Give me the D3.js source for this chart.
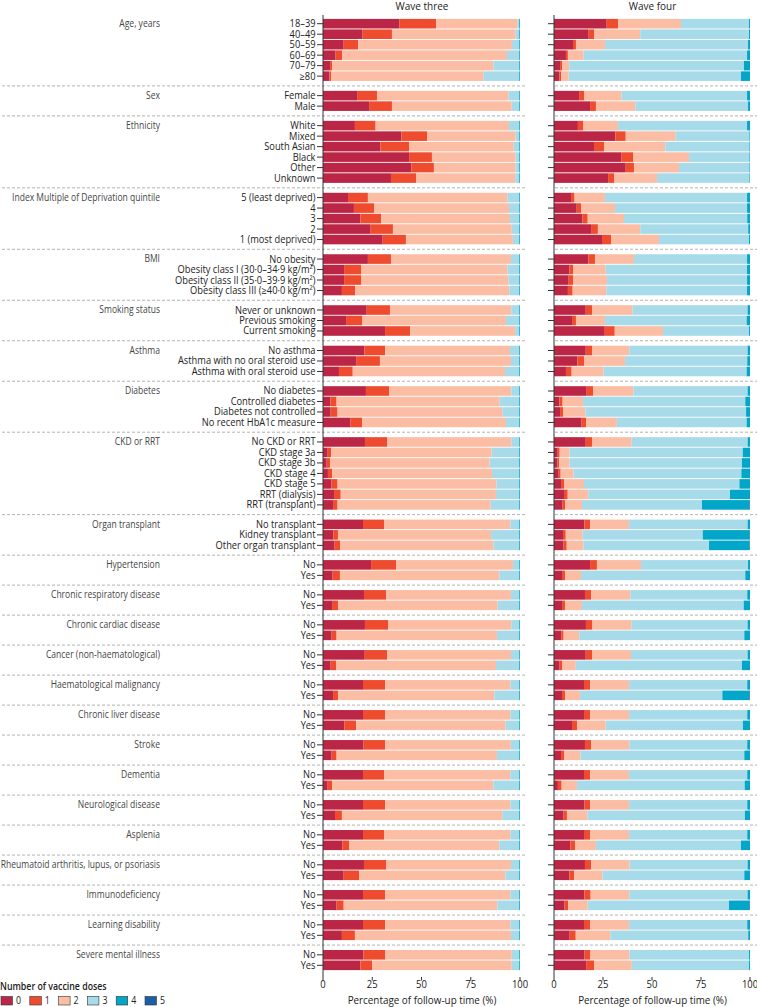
<!DOCTYPE html>
<html><head><meta charset="utf-8">
<script src="https://cdn.jsdelivr.net/npm/d3@7"></script>
<style>body{margin:0;background:#fff} svg{display:block} text{font-family:"Open Sans","Noto Sans",sans-serif}</style>
</head><body><svg id="c" width="757" height="1007"></svg>
<script>
// ---------------- DATA ----------------
const groupLabels = ["Age, years","Sex","Ethnicity","Index Multiple of Deprivation quintile","BMI","Smoking status","Asthma","Diabetes","CKD or RRT","Organ transplant","Hypertension","Chronic respiratory disease","Chronic cardiac disease","Cancer (non-haematological)","Haematological malignancy","Chronic liver disease","Stroke","Dementia","Neurological disease","Asplenia","Rheumatoid arthritis, lupus, or psoriasis","Immunodeficiency","Learning disability","Severe mental illness"];
const rowLabels = [
 ["18–39","40–49","50–59","60–69","70–79","≥80"],
 ["Female","Male"],
 ["White","Mixed","South Asian","Black","Other","Unknown"],
 ["5 (least deprived)","4","3","2","1 (most deprived)"],
 ["No obesity","Obesity class I (30·0–34·9 kg/m²)","Obesity class II (35·0–39·9 kg/m²)","Obesity class III (≥40·0 kg/m²)"],
 ["Never or unknown","Previous smoking","Current smoking"],
 ["No asthma","Asthma with no oral steroid use","Asthma with oral steroid use"],
 ["No diabetes","Controlled diabetes","Diabetes not controlled","No recent HbA1c measure"],
 ["No CKD or RRT","CKD stage 3a","CKD stage 3b","CKD stage 4","CKD stage 5","RRT (dialysis)","RRT (transplant)"],
 ["No transplant","Kidney transplant","Other organ transplant"],
 ["No","Yes"],["No","Yes"],["No","Yes"],["No","Yes"],["No","Yes"],["No","Yes"],["No","Yes"],
 ["No","Yes"],["No","Yes"],["No","Yes"],["No","Yes"],["No","Yes"],["No","Yes"],["No","Yes"]
];
// cumulative % of follow-up time reached by 0,1,2,3,4 doses (rest = 5 doses)
const wave3Cumulative = [
 [38.7,57.4,98.8,99.6,100],[20.1,35.0,97.8,99.6,100],[10.5,17.9,95.9,99.6,100],[6.4,9.8,93.4,99.6,100],[3.6,4.6,86.5,99.6,100],[3.2,4.1,81.6,99.6,100],
 [17.3,27.4,94.2,99.6,100],[23.4,35.0,95.8,99.6,100],
 [16.2,26.7,94.4,99.6,100],[39.8,52.8,97.8,99.6,100],[29.1,43.7,96.8,99.6,100],[43.7,55.3,97.8,99.6,100],[44.8,56.3,97.8,99.6,100],[34.5,47.4,97.6,99.6,100],
 [12.7,22.8,93.7,99.6,100],[15.7,25.9,94.4,99.6,100],[19.0,29.6,94.9,99.6,100],[24.2,35.5,95.8,99.6,100],[30.3,42.1,96.4,99.6,100],
 [22.8,34.5,95.4,99.6,100],[10.7,19.5,93.6,99.6,100],[10.7,19.5,94.1,99.6,100],[9.6,16.4,94.6,99.6,100],
 [22.2,34.0,95.6,99.6,100],[11.7,19.8,92.9,99.6,100],[31.5,44.3,97.5,99.6,100],
 [21.0,31.6,94.9,99.6,100],[17.1,28.9,95.4,99.6,100],[8.1,15.1,92.4,99.6,100],
 [21.8,33.5,95.6,99.6,100],[3.7,6.9,89.7,99.6,100],[3.9,7.4,91.0,99.6,100],[14.0,19.8,92.9,99.6,100],
 [21.3,32.7,95.6,99.6,100],[2.4,4.1,85.6,99.6,100],[1.9,3.6,84.6,99.6,100],[2.5,4.6,85.8,99.6,100],[4.2,7.4,88.0,99.6,100],[5.6,9.0,87.8,99.6,100],[5.1,7.4,85.1,99.6,100],
 [20.3,31.1,95.1,99.6,100],[5.2,7.6,85.3,99.6,100],[5.9,8.8,86.6,99.6,100],
 [24.4,37.2,96.4,99.6,100],[4.9,8.6,89.5,99.6,100],
 [20.8,32.1,95.4,99.6,100],[4.6,7.6,88.7,99.6,100],
 [21.3,33.0,95.6,99.6,100],[4.4,6.9,88.3,99.6,100],
 [21.2,32.5,95.4,99.6,100],[3.9,6.6,87.8,99.6,100],
 [20.3,31.5,95.1,99.6,100],[5.1,7.6,87.0,99.6,100],
 [20.3,31.5,95.1,99.6,100],[10.8,16.8,92.7,99.6,100],
 [20.6,31.6,95.3,99.6,100],[4.4,6.9,88.3,99.6,100],
 [20.3,31.1,95.1,99.6,100],[2.4,4.7,86.5,99.6,100],
 [20.3,31.5,95.1,99.6,100],[6.1,9.6,91.0,99.6,100],
 [20.3,31.1,95.1,99.6,100],[9.8,13.2,89.5,99.6,100],
 [20.8,32.0,95.4,99.6,100],[10.5,18.3,92.6,99.6,100],
 [20.3,31.5,95.1,99.6,100],[6.9,10.5,88.5,99.6,100],
 [20.3,31.5,95.1,99.6,100],[9.6,16.2,95.4,99.6,100],
 [20.5,31.7,95.8,99.6,100],[19.0,24.9,95.8,99.6,100]
];
const wave4Cumulative = [
 [26.9,32.8,64.8,99.5,100],[17.7,20.6,44.0,99.5,100],[9.7,11.2,26.0,99.0,100],[6.1,7.1,15.1,98.5,100],[3.1,4.1,7.8,96.9,100],[2.7,3.6,7.5,95.4,100],
 [12.8,15.5,34.4,98.5,100],[18.4,21.4,41.5,99.0,100],
 [12.2,15.0,32.7,98.5,100],[31.3,36.6,62.1,99.7,100],[20.4,25.7,56.8,99.7,100],[34.5,40.5,68.9,99.7,100],[36.6,40.8,63.8,99.7,100],[27.6,30.8,52.6,99.7,100],
 [8.7,10.5,26.0,98.5,100],[11.6,13.8,31.1,98.5,100],[14.5,17.2,35.7,98.6,100],[18.9,22.4,44.0,99.1,100],[24.5,29.1,53.6,99.5,100],
 [17.5,20.9,40.8,98.5,100],[7.8,9.9,26.4,98.5,100],[7.5,9.7,27.0,98.5,100],[7.1,9.5,26.7,98.5,100],
 [16.2,19.4,40.1,98.8,100],[9.2,11.2,26.0,98.3,100],[25.9,31.0,55.6,99.5,100],
 [16.2,19.4,38.4,98.8,100],[11.9,15.3,36.2,98.6,100],[6.1,9.0,25.3,98.3,100],
 [16.7,19.9,40.5,98.8,100],[2.7,4.4,14.8,97.6,100],[3.1,4.6,16.0,98.0,100],[14.1,16.5,32.1,98.3,100],
 [16.2,19.4,39.6,98.8,100],[1.9,2.9,8.0,96.3,100],[1.7,2.6,8.0,95.9,100],[2.4,3.4,10.0,95.6,100],[3.6,5.1,15.3,94.6,100],[5.1,7.0,17.5,89.8,100],[4.4,5.8,14.3,75.5,99.7],
 [15.5,18.5,38.3,98.8,100],[4.6,6.0,14.6,75.9,99.7],[4.9,6.5,15.0,79.1,99.8],
 [18.4,21.9,44.4,99.0,100],[4.1,5.6,13.8,97.6,100],
 [15.8,19.0,38.9,98.6,100],[4.1,5.6,14.3,96.8,100],
 [16.3,19.6,39.6,98.8,100],[3.7,4.9,12.9,97.1,100],
 [16.2,19.4,39.3,98.8,100],[2.9,4.3,11.1,95.9,100],
 [15.3,18.5,38.3,98.6,100],[4.1,5.6,13.3,85.9,99.7],
 [15.3,18.5,38.3,98.6,100],[9.2,11.9,26.4,96.4,100],
 [15.8,18.9,38.4,98.6,100],[3.6,5.1,13.6,97.1,100],
 [15.3,18.5,38.3,98.6,100],[2.0,3.9,11.7,97.3,100],
 [15.6,18.5,38.3,98.6,100],[4.9,6.6,17.0,97.4,100],
 [15.3,18.5,38.3,98.6,100],[8.3,10.7,21.4,95.4,100],
 [15.8,19.0,38.6,98.8,100],[7.8,10.2,24.7,97.1,100],
 [15.5,18.7,38.4,98.8,100],[5.4,7.3,17.2,89.3,99.7],
 [15.3,18.5,38.3,98.6,100],[8.0,11.1,28.7,99.1,100],
 [15.6,18.6,38.5,99.5,100],[16.4,20.6,39.7,99.5,100]
];
const doseLabels = ["0","1","2","3","4","5"];
const doseColors = ["#bc2646","#ef4b2f","#fbbea4","#a8dbea","#02a6c9","#1b5ea8"];
const xTickValues = [0,25,50,75,100];
const panelTitles = ["Wave three","Wave four"];
const axisTitle = "Percentage of follow-up time (%)";
const legendTitle = "Number of vaccine doses";

// ---------------- LAYOUT ----------------
const svg = d3.select("#c");
const gapRatio = 0.86;
const rows = [];
rowLabels.forEach((labs, g) => labs.forEach((l, j) => {
  const i = rows.length;
  rows.push({label: l, group: g, first: j === 0, last: j === labs.length - 1, pos: i + g * gapRatio, i});
}));
const y = d3.scaleLinear().domain([0, rows[rows.length-1].pos]).range([23.7, 965.3]);
const barH = 9.6;

const panels = [
  {x: d3.scaleLinear().domain([0,100]).range([323, 520]), data: wave3Cumulative, title: panelTitles[0], labels: true, dashStart: 2, dashEnd: 526},
  {x: d3.scaleLinear().domain([0,100]).range([554, 750]), data: wave4Cumulative, title: panelTitles[1], labels: false, dashStart: 555, dashEnd: 757}
];

function ctext(parent, txt, x, yy, size, anchor, sx, fill, weight) {
  return parent.append("text")
    .attr("transform", `translate(${x},${yy}) scale(${sx},1)`)
    .attr("text-anchor", anchor).attr("font-size", size)
    .attr("fill", fill).attr("font-weight", weight || 400).text(txt);
}

// separators
const seps = [];
rows.forEach((r, k) => { if (r.last && k < rows.length - 1) seps.push((y(r.pos) + y(rows[k+1].pos)) / 2); });
const sepG = svg.append("g");
seps.forEach(sy => {
  panels.forEach(p => sepG.append("line").attr("x1", p.dashStart).attr("x2", p.dashEnd).attr("y1", sy).attr("y2", sy));
});
sepG.selectAll("line").attr("stroke", "#b3b3b3").attr("stroke-width", 1).attr("stroke-dasharray", "3,2");

panels.forEach(p => {
  const g = svg.append("g");
  rows.forEach(r => {
    const cum = p.data[r.i];
    for (let k = 0; k < 6; k++) {
      const from = k === 0 ? 0 : cum[k-1];
      const to = k === 5 ? 100 : cum[k];
      if (to <= from) continue;
      g.append("rect")
        .attr("x", p.x(from)).attr("width", p.x(to) - p.x(from))
        .attr("y", y(r.pos) - barH/2).attr("height", barH)
        .attr("fill", doseColors[k]);
    }
  });
  const x0 = p.x(0);
  svg.append("line").attr("x1", x0).attr("x2", x0).attr("y1", 15).attr("y2", 977)
    .attr("stroke", "#333").attr("stroke-width", 1);
  rows.forEach(r => {
    svg.append("line").attr("x1", x0 - 6).attr("x2", x0).attr("y1", y(r.pos)).attr("y2", y(r.pos))
      .attr("stroke", "#333").attr("stroke-width", 1);
    if (p.labels) ctext(svg, r.label, x0 - 7.5, y(r.pos) + 3.5, 10, "end", 0.93, "#222");
  });
  xTickValues.forEach(t => {
    svg.append("line").attr("x1", p.x(t)).attr("x2", p.x(t)).attr("y1", 977).attr("y2", 980.5)
      .attr("stroke", "#333").attr("stroke-width", 1);
    ctext(svg, t, p.x(t), 987.5, 10.5, "middle", 0.9, "#222");
  });
  const cx = (p.x(0) + p.x(100)) / 2 + 0.5;
  ctext(svg, p.title, cx, 10.2, 10.5, "middle", 0.95, "#222");
  ctext(svg, axisTitle, cx, 1003.8, 10.5, "middle", 0.94, "#222");
});

// group labels
rows.filter(r => r.first).forEach(r => {
  ctext(svg, groupLabels[r.group], 160, y(r.pos) + 3.4, 10, "end", 0.855, "#444");
});

// legend
ctext(svg, legendTitle, 0, 990.2, 10, "start", 0.88, "#222", 600);
doseLabels.forEach((d, k) => {
  const lx = k * 28.8;
  svg.append("rect").attr("x", lx + 1).attr("y", 996.5).attr("width", 11.5).attr("height", 8.5).attr("fill", doseColors[k])
    .attr("stroke", "#333").attr("stroke-width", 0.6);
  ctext(svg, d, lx + 16, 1004.2, 10, "start", 0.88, "#222");
});
</script></body></html>
